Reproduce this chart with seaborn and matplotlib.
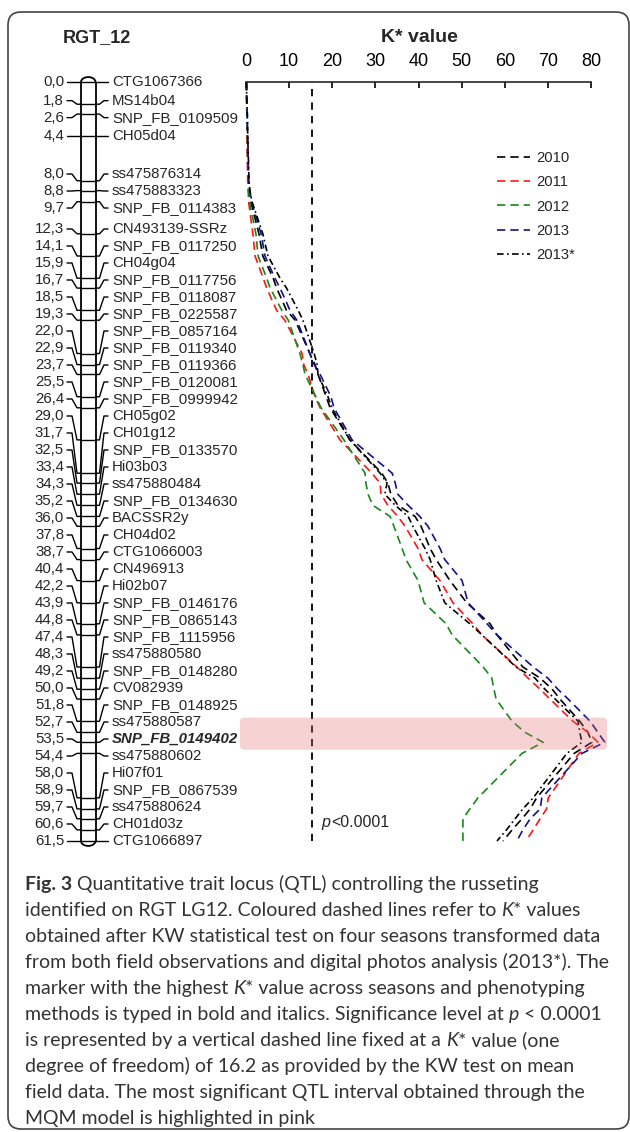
import numpy as np
import pandas as pd
import matplotlib
matplotlib.use("Agg")
import matplotlib.pyplot as plt
import seaborn as sns
from matplotlib.patches import Arc, FancyBboxPatch

# linkage map RGT LG12 (cM) and marker names
marker_names = [
    "CTG1067366", "MS14b04", "SNP_FB_0109509", "CH05d04", "ss475876314",
    "ss475883323", "SNP_FB_0114383", "CN493139-SSRz", "SNP_FB_0117250", "CH04g04",
    "SNP_FB_0117756", "SNP_FB_0118087", "SNP_FB_0225587", "SNP_FB_0857164", "SNP_FB_0119340",
    "SNP_FB_0119366", "SNP_FB_0120081", "SNP_FB_0999942", "CH05g02", "CH01g12",
    "SNP_FB_0133570", "Hi03b03", "ss475880484", "SNP_FB_0134630", "BACSSR2y",
    "CH04d02", "CTG1066003", "CN496913", "Hi02b07", "SNP_FB_0146176",
    "SNP_FB_0865143", "SNP_FB_1115956", "ss475880580", "SNP_FB_0148280", "CV082939",
    "SNP_FB_0148925", "ss475880587", "SNP_FB_0149402", "ss475880602", "Hi07f01",
    "SNP_FB_0867539", "ss475880624", "CH01d03z", "CTG1066897",
]
marker_cm = [
    0.0, 1.8, 2.6, 4.4, 8.0, 8.8, 9.7, 12.3, 14.1, 15.9,
    16.7, 18.5, 19.3, 22.0, 22.9, 23.7, 25.5, 26.4, 29.0, 31.7,
    32.5, 33.4, 34.3, 35.2, 36.0, 37.8, 38.7, 40.4, 42.2, 43.9,
    44.8, 47.4, 48.3, 49.2, 50.0, 51.8, 52.7, 53.5, 54.4, 58.0,
    58.9, 59.7, 60.6, 61.5,
]

# K* values per season
k_2010 = [
    0.1, 0.2, 0.2, 0.3, 0.6, 0.8, 1.1, 3.0, 3.9, 6.3,
    7.1, 9.4, 11.4, 14.8, 16.0, 16.7, 18.6, 19.5, 24.1, 31.5,
    32.9, 33.6, 35.2, 39.2, 40.6, 42.7, 44.1, 47.3, 51.2, 56.6,
    58.2, 64.2, 68.2, 71.0, 72.8, 77.4, 79.3, 80.2, 76.1, 67.4,
    65.9, 64.0, 61.7, 59.6,
]
k_2011 = [
    0.1, 0.1, 0.2, 0.2, 0.4, 0.5, 0.6, 1.6, 2.1, 4.0,
    4.8, 7.1, 9.0, 13.0, 13.4, 14.4, 16.0, 17.2, 21.8, 29.2,
    31.1, 31.3, 32.9, 35.2, 36.9, 39.9, 40.8, 45.0, 48.0, 52.6,
    54.7, 62.8, 65.4, 68.2, 70.5, 75.8, 79.3, 81.6, 77.2, 70.1,
    69.7, 68.2, 66.6, 64.9,
]
k_2012 = [
    0.1, 0.2, 0.2, 0.3, 0.5, 0.6, 0.8, 2.3, 2.8, 4.8,
    5.6, 8.3, 9.8, 12.5, 13.2, 13.7, 16.2, 17.4, 22.7, 27.6,
    27.8, 28.3, 29.4, 33.4, 34.3, 36.2, 37.1, 39.9, 41.3, 46.4,
    47.8, 55.0, 57.0, 57.5, 58.0, 61.7, 64.7, 68.9, 64.0, 53.8,
    51.9, 50.3, 50.3, 50.3,
]
k_2013 = [
    0.1, 0.2, 0.3, 0.4, 0.6, 0.9, 1.3, 3.5, 4.4, 6.7,
    7.9, 10.2, 11.8, 14.8, 15.8, 17.2, 19.7, 20.4, 24.6, 33.9,
    34.6, 35.2, 37.6, 40.3, 42.2, 45.0, 46.1, 50.1, 51.5, 55.9,
    58.2, 66.6, 70.0, 72.3, 74.7, 79.8, 81.6, 83.2, 77.9, 68.6,
    68.2, 65.9, 64.2, 62.8,
]
k_2013_photo = [
    0.1, 0.2, 0.3, 0.4, 0.7, 0.9, 1.4, 3.9, 5.1, 7.9,
    9.4, 12.1, 13.2, 15.8, 16.5, 16.7, 19.0, 19.9, 24.1, 31.1,
    32.7, 32.2, 34.6, 37.6, 38.7, 41.5, 42.7, 44.1, 46.1, 51.9,
    54.7, 62.6, 67.0, 69.3, 71.7, 77.0, 77.4, 77.9, 74.4, 66.6,
    64.2, 62.4, 60.4, 58.2,
]
seasons = ["2010", "2011", "2012", "2013", "2013*"]
threshold = 15.2
qtl_interval = (51.5, 54.1)
best_marker = "SNP_FB_0149402"

W, H = 630, 1132


def fx(px):
    return px / W


def fy(py):
    return 1 - py / H


# push overlapping labels apart, keeping each group centred on its markers
def spread_labels(pos, gap, lo, hi):
    blocks = []
    for p in pos:
        n, s = 1, p
        while True:
            start = min(max(s / n, lo), hi - (n - 1) * gap)
            if blocks and blocks[-1][0] + blocks[-1][1] * gap > start:
                pstart, pn, ps = blocks.pop()
                s = ps + s - n * pn * gap
                n = pn + n
            else:
                break
        blocks.append((start, n, s))
    out = []
    for start, n, s in blocks:
        out += [start + k * gap for k in range(n)]
    return np.array(out)


sns.set_style("white")
plt.rcParams["font.family"] = ["Liberation Sans", "DejaVu Sans"]

fig = plt.figure(figsize=(W / 100, H / 100), dpi=100)

top_px, bot_px = 82, 841
x0_px, x80_px = 246, 591
ax = fig.add_axes([fx(x0_px), fy(bot_px), fx(x80_px) - fx(x0_px), fy(top_px) - fy(bot_px)])
ax_map = fig.add_axes([0, fy(bot_px), fx(x0_px), fy(top_px) - fy(bot_px)])
ax.patch.set_alpha(0)
ax_map.patch.set_alpha(0)

# ---- K* curves
n = len(marker_cm)
df = pd.DataFrame({
    "cM": marker_cm * 5,
    "K": k_2010 + k_2011 + k_2012 + k_2013 + k_2013_photo,
    "season": np.repeat(seasons, n),
})
palette = {"2010": "#000000", "2011": "#ff1414", "2012": "#17891b",
           "2013": "#12128a", "2013*": "#000000"}
dashes = {"2010": (5, 3), "2011": (5, 3), "2012": (5, 3), "2013": (5, 3),
          "2013*": (4, 2, 1, 2)}
sns.lineplot(data=df, x="K", y="cM", hue="season", style="season",
             palette=palette, dashes=dashes, sort=False, estimator=None,
             linewidth=1.2, ax=ax)
for line in ax.lines:
    line.set_clip_on(False)

ax.axvline(threshold, color="black", lw=1.3, dashes=(4, 3.5), zorder=1)

ax.set_xlim(0, 80)
ax.set_ylim(61.5, 0)
ax.xaxis.tick_top()
ax.set_xticks(range(0, 81, 10))
ax.set_yticks([])
ax.set_xlabel("")
ax.set_ylabel("")
for s in ["bottom", "left", "right"]:
    ax.spines[s].set_visible(False)
ax.spines["top"].set_linewidth(1.2)
ax.tick_params(axis="x", direction="in", length=4, width=1.2, pad=9,
               labelsize=13, colors="black")

# highlighted QTL interval
k_per_px = 80 / (x80_px - x0_px)
cm_per_px = 61.5 / (bot_px - top_px)
qtl_box = FancyBboxPatch(
    (-6 * k_per_px, qtl_interval[0]), (x80_px - x0_px + 16 + 6) * k_per_px,
    qtl_interval[1] - qtl_interval[0],
    boxstyle="round,pad=0,rounding_size=%f" % (4 * k_per_px),
    mutation_aspect=cm_per_px / k_per_px,
    fc=(0.89, 0.42, 0.44), ec="none", alpha=0.3, clip_on=False, zorder=5)
ax.add_patch(qtl_box)

# legend
sns.move_legend(ax, "upper left", bbox_to_anchor=(fx(497), fy(151)),
                bbox_transform=fig.transFigure, frameon=False, title=None,
                fontsize=10.6, handlelength=2.25, handletextpad=0.4,
                labelspacing=0.7, borderpad=0, borderaxespad=0)
for h in ax.get_legend().legend_handles:
    h.set_linewidth(1.2)

# p-value note next to threshold line
p_txt = ax.text(threshold + 2.4, 60.6, "p", fontsize=11.5, style="italic",
                va="bottom", ha="left")
ax.annotate("<0.0001", xy=(1, 0), xycoords=p_txt, fontsize=11.5,
            va="bottom", ha="left")

# ---- linkage group drawing
ax_map.set_xlim(0, x0_px)
ax_map.set_ylim(61.5, 0)
ax_map.axis("off")

rail_l, rail_r = 81, 95.5
gap = 17 * cm_per_px
label_y = spread_labels(marker_cm, gap, 0, marker_cm[-1])
lw_c = 1.0
for rx in (rail_l, rail_r):
    ax_map.plot([rx, rx], [marker_cm[0], marker_cm[-1]], color="black", lw=1.3,
                solid_capstyle="butt", clip_on=False)
cx = (rail_l + rail_r) / 2
ax_map.add_patch(Arc((cx, marker_cm[0]), rail_r - rail_l, 0.8, theta1=180, theta2=360,
                     color="black", lw=1.3, clip_on=False))
ax_map.add_patch(Arc((cx, marker_cm[-1]), rail_r - rail_l, 0.8, theta1=0, theta2=180,
                     color="black", lw=1.3, clip_on=False))

for name, cm, ly in zip(marker_names, marker_cm, label_y):
    ax_map.plot([67, 72, 77, rail_l], [ly, ly, cm, cm], color="black", lw=lw_c,
                clip_on=False, solid_joinstyle="round")
    ax_map.plot([rail_l, rail_r], [cm, cm], color="black", lw=lw_c, clip_on=False)
    ax_map.plot([rail_r, 99.5, 104, 108], [cm, cm, ly, ly], color="black", lw=lw_c,
                clip_on=False, solid_joinstyle="round")
    ax_map.text(64, ly, ("%.1f" % cm).replace(".", ","), fontsize=10.8,
                ha="right", va="center")
    if name == best_marker:
        ax_map.text(112, ly, name, fontsize=10.8, ha="left", va="center",
                    weight="bold", style="italic")
    else:
        ax_map.text(112, ly, name, fontsize=10.8, ha="left", va="center")

# headings
fig.text(fx(97), fy(38), "RGT_12", fontsize=13, weight="bold", ha="center", va="center")
fig.text(fx(419), fy(38), "K* value", fontsize=14, weight="bold", ha="center", va="center")

# ---- caption
cap_color = "#333333"
cap_font = ["Lato", "DejaVu Sans"]
cap_size = 14
it = {"style": "italic"}
rg = {}
caption = [
    [("Fig. 3", {"weight": "bold"}), (" Quantitative trait locus (QTL) controlling the russeting", rg)],
    [("identified on RGT LG12. Coloured dashed lines refer to ", rg), ("K", it), ("* values", rg)],
    [("obtained after KW statistical test on four seasons transformed data", rg)],
    [("from both field observations and digital photos analysis (2013*). The", rg)],
    [("marker with the highest ", rg), ("K", it), ("* value across seasons and phenotyping", rg)],
    [("methods is typed in bold and italics. Significance level at ", rg), ("p", it), (" < 0.0001", rg)],
    [("is represented by a vertical dashed line fixed at a ", rg), ("K", it), ("* value (one", rg)],
    [("degree of freedom) of 16.2 as provided by the KW test on mean", rg)],
    [("field data. The most significant QTL interval obtained through the", rg)],
    [("MQM model is highlighted in pink", rg)],
]
for i, runs in enumerate(caption):
    y = fy(883 + i * 26 + 10)
    prev = fig.text(fx(25), y, runs[0][0], fontsize=cap_size, color=cap_color,
                    family=cap_font, va="bottom", ha="left", **runs[0][1])
    # chain remaining runs to the end of the previous one
    for txt, style in runs[1:]:
        prev = ax.annotate(txt, xy=(1, 0), xycoords=prev, fontsize=cap_size,
                           color=cap_color, family=cap_font, va="bottom",
                           ha="left", annotation_clip=False, **style)

# rounded frame
frame = FancyBboxPatch((8 / 100, (H - 1129) / 100), (629 - 8) / 100, (1129 - 12) / 100,
                       boxstyle="round,pad=0,rounding_size=0.13",
                       transform=fig.dpi_scale_trans, fc="none", ec="#444444", lw=1.2)
fig.add_artist(frame)

fig.savefig("out.png", dpi=100, facecolor="white")
